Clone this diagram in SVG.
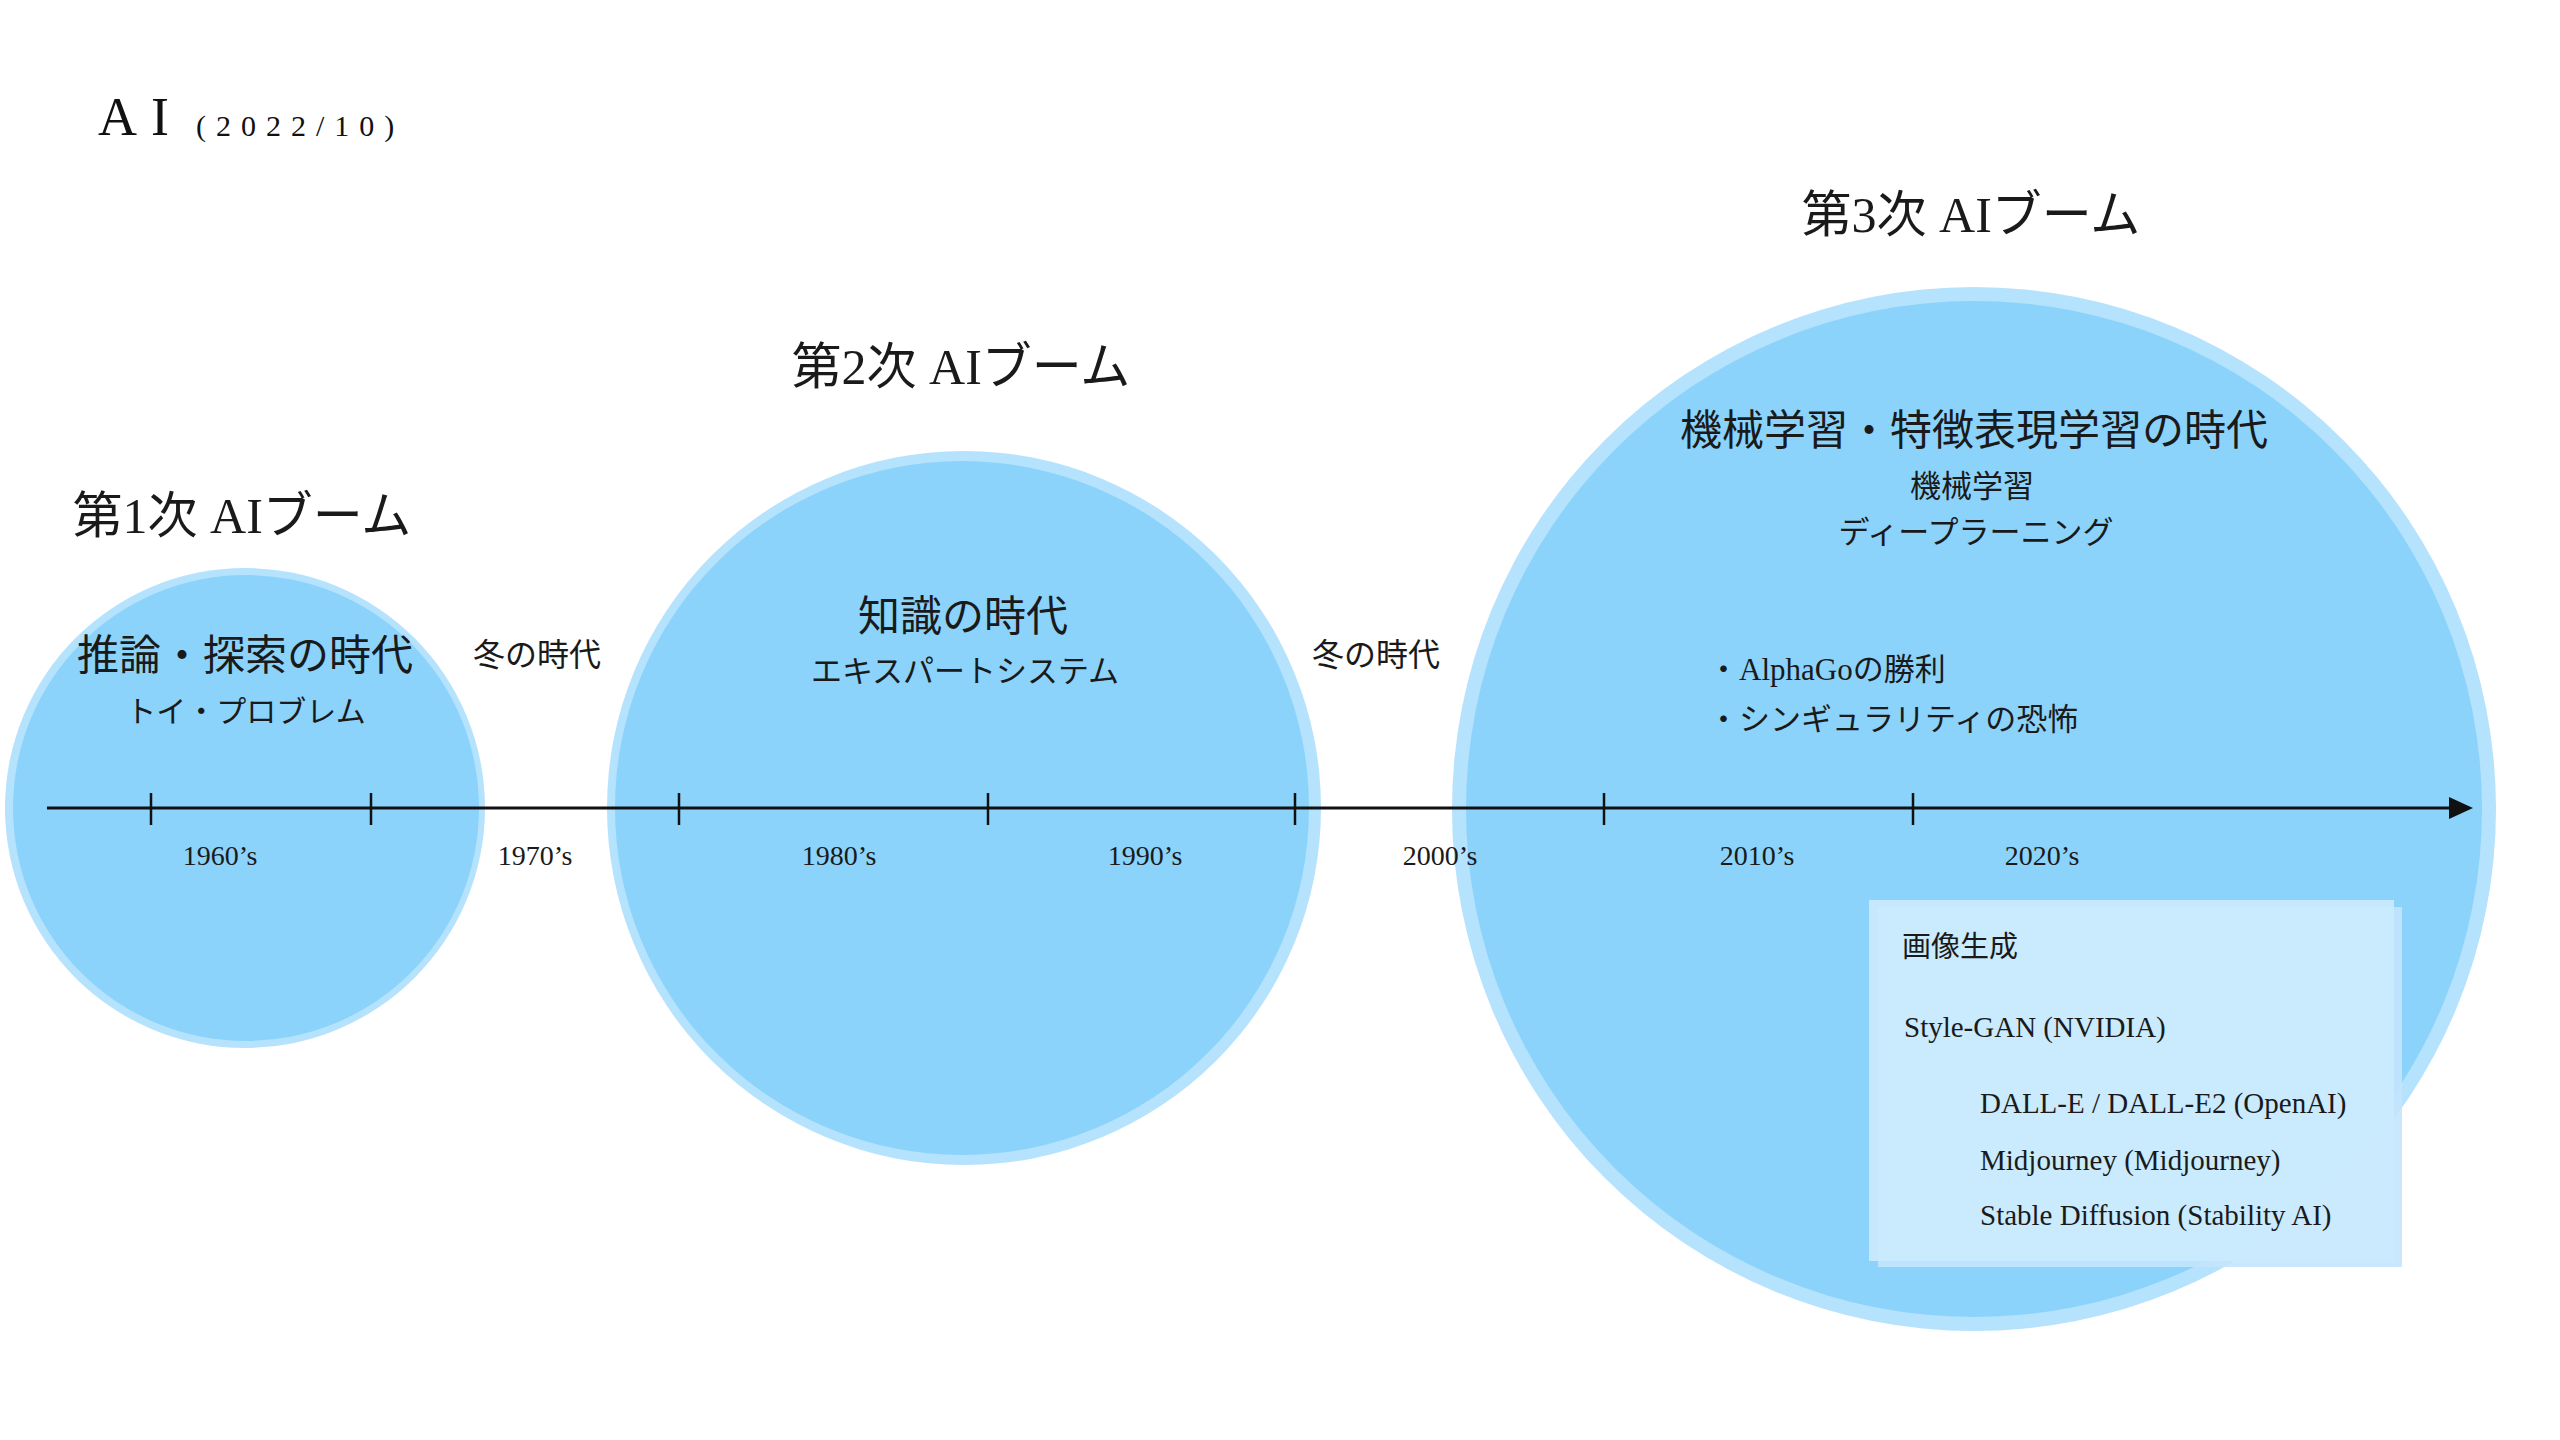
<svg xmlns="http://www.w3.org/2000/svg" width="2560" height="1440" viewBox="0 0 2560 1440">
  <defs>
    <style>
      .ring { fill: #b5e2fc; }
      .core { fill: #8bd3fb; }
      .jp { font-family: "Liberation Serif", "Noto Sans CJK JP", serif; fill: #1a1a1a; text-anchor: middle; }
      .left { text-anchor: start; }
      .h { font-size: 50px; }
      .era { font-size: 42px; }
      .sub { font-size: 31px; }
      .dec { font-family: "Liberation Serif", serif; font-size: 28px; fill: #1a1a1a; text-anchor: middle; }
      .box { font-family: "Liberation Serif", "Noto Sans CJK JP", serif; font-size: 29px; fill: #1a1a1a; }
      .tick { stroke: #111; stroke-width: 2.5; }
    </style>
    <marker id="arrow" markerUnits="userSpaceOnUse" markerWidth="26" markerHeight="24" refX="2" refY="11" orient="auto">
      <path d="M0,0 L24,11 L0,22 Z" fill="#111"/>
    </marker>
  </defs>

  <rect x="0" y="0" width="2560" height="1440" fill="#ffffff"/>

  <g id="title">
    <text x="98" y="135" font-family="Liberation Serif, serif" font-size="54" letter-spacing="14" fill="#111">AI</text>
    <text x="196" y="136" font-family="Liberation Serif, serif" font-size="30" letter-spacing="10" fill="#111">(2022/10)</text>
  </g>

  <g id="boom1">
    <circle class="ring" cx="245" cy="808" r="240"/>
    <circle class="core" cx="246" cy="808" r="233"/>
    <text class="jp h" x="242" y="533">第1次 AIブーム</text>
    <text class="jp era" x="245" y="670">推論・探索の時代</text>
    <text class="jp" x="246" y="722" font-size="30">トイ・プロブレム</text>
  </g>

  <g id="winter1">
    <text class="jp" x="537" y="666" font-size="32">冬の時代</text>
  </g>

  <g id="boom2">
    <circle class="ring" cx="964" cy="808" r="357"/>
    <circle class="core" cx="962" cy="808" r="347"/>
    <text class="jp h" x="961" y="384">第2次 AIブーム</text>
    <text class="jp era" x="963" y="631">知識の時代</text>
    <text class="jp sub" x="965" y="682">エキスパートシステム</text>
  </g>

  <g id="winter2">
    <text class="jp" x="1376" y="666" font-size="32">冬の時代</text>
  </g>

  <g id="boom3">
    <circle class="ring" cx="1974" cy="809" r="522"/>
    <circle class="core" cx="1974" cy="809" r="508"/>
    <text class="jp h" x="1971" y="232">第3次 AIブーム</text>
    <text class="jp era" x="1974" y="445">機械学習・特徴表現学習の時代</text>
    <text class="jp sub" x="1972" y="497">機械学習</text>
    <text class="jp sub" x="1976" y="543">ディープラーニング</text>
    <text class="jp sub left" x="1708" y="680">・AlphaGoの勝利</text>
    <text class="jp sub left" x="1708" y="730">・シンギュラリティの恐怖</text>
  </g>

  <g id="timeline">
    <line x1="47" y1="808" x2="2451" y2="808" stroke="#111" stroke-width="3" marker-end="url(#arrow)"/>
    <line class="tick" x1="151" y1="793" x2="151" y2="825"/>
    <line class="tick" x1="371" y1="793" x2="371" y2="825"/>
    <line class="tick" x1="679" y1="793" x2="679" y2="825"/>
    <line class="tick" x1="988" y1="793" x2="988" y2="825"/>
    <line class="tick" x1="1295" y1="793" x2="1295" y2="825"/>
    <line class="tick" x1="1604" y1="793" x2="1604" y2="825"/>
    <line class="tick" x1="1913" y1="793" x2="1913" y2="825"/>
    <text class="dec" x="220" y="865">1960’s</text>
    <text class="dec" x="535" y="865">1970’s</text>
    <text class="dec" x="839" y="865">1980’s</text>
    <text class="dec" x="1145" y="865">1990’s</text>
    <text class="dec" x="1440" y="865">2000’s</text>
    <text class="dec" x="1757" y="865">2010’s</text>
    <text class="dec" x="2042" y="865">2020’s</text>
  </g>

  <g id="image-generation">
    <rect x="1878" y="907" width="524" height="360" fill="#c3e6fd" fill-opacity="0.9"/>
    <rect x="1869" y="900" width="525" height="361" fill="#cbeafd" fill-opacity="0.9"/>
    <text class="box" x="1902" y="957" font-size="26">画像生成</text>
    <text class="box" x="1904" y="1037">Style-GAN (NVIDIA)</text>
    <text class="box" x="1980" y="1113">DALL-E / DALL-E2 (OpenAI)</text>
    <text class="box" x="1980" y="1170">Midjourney (Midjourney)</text>
    <text class="box" x="1980" y="1225">Stable Diffusion (Stability AI)</text>
  </g>
</svg>
